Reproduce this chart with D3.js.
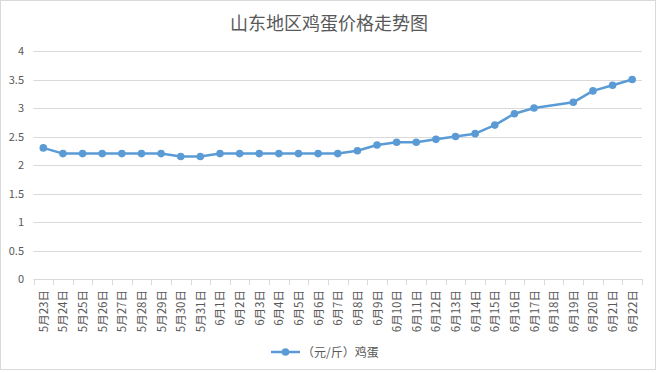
<!DOCTYPE html>
<html>
<head>
<meta charset="utf-8">
<script src="https://cdn.jsdelivr.net/npm/d3@7"></script>
<style>
  body { margin: 0; background: #fff; }
  svg { display: block; font-family: "Noto Sans CJK SC", "Noto Sans", sans-serif; }
</style>
</head>
<body>
<svg width="658" height="373"></svg>
<script>
var dates = ["5月23日","5月24日","5月25日","5月26日","5月27日","5月28日","5月29日","5月30日","5月31日",
  "6月1日","6月2日","6月3日","6月4日","6月5日","6月6日","6月7日","6月8日","6月9日","6月10日",
  "6月11日","6月12日","6月13日","6月14日","6月15日","6月16日","6月17日","6月18日","6月19日",
  "6月20日","6月21日","6月22日"];
var prices = [2.3,2.2,2.2,2.2,2.2,2.2,2.2,2.15,2.15,
  2.2,2.2,2.2,2.2,2.2,2.2,2.2,2.25,2.35,2.4,
  2.4,2.45,2.5,2.55,2.7,2.9,3.0,null,3.1,
  3.3,3.4,3.5];
var yTicks = [0,0.5,1,1.5,2,2.5,3,3.5,4];
var seriesName = "（元/斤）鸡蛋";
var title = "山东地区鸡蛋价格走势图";

var svg = d3.select("svg"),
    width = +svg.attr("width"),
    height = +svg.attr("height");

var color = "#5b9bd5";
var grid = "#d9d9d9";
var textColor = "#595959";

svg.append("rect")
  .attr("x", 0.5).attr("y", 0.5)
  .attr("width", 655).attr("height", 369)
  .attr("fill", "#fff").attr("stroke", grid);

var margin = {left: 33.5, right: 642, top: 51, bottom: 279};

var x = d3.scaleBand().domain(dates).range([margin.left, margin.right]);
var y = d3.scaleLinear().domain([0, 4]).range([margin.bottom, margin.top]);

svg.append("text")
  .attr("x", 329).attr("y", 30)
  .attr("text-anchor", "middle")
  .attr("font-size", "18px")
  .attr("fill", textColor)
  .text(title);

// gridlines
svg.append("g")
  .selectAll("line")
  .data(yTicks.slice(1))
  .enter().append("line")
  .attr("x1", margin.left).attr("x2", margin.right)
  .attr("y1", function(d) { return Math.round(y(d)) + 0.5; })
  .attr("y2", function(d) { return Math.round(y(d)) + 0.5; })
  .attr("stroke", grid);

// y labels
svg.append("g")
  .selectAll("text")
  .data(yTicks)
  .enter().append("text")
  .attr("x", 24)
  .attr("y", function(d) { return y(d) + 4; })
  .attr("text-anchor", "end")
  .attr("font-size", "11px")
  .attr("fill", textColor)
  .text(function(d) { return d; });

// x axis
var xAxis = d3.axisBottom(x).tickSize(5).tickFormat("");
var gx = svg.append("g")
  .attr("transform", "translate(0," + (Math.round(margin.bottom) + 0.5) + ")")
  .call(xAxis);
gx.select(".domain").attr("stroke", grid).attr("d", "M" + margin.left + ",0H" + margin.right);
gx.selectAll(".tick").remove();
svg.append("g")
  .selectAll("line")
  .data(dates.concat(["end"]))
  .enter().append("line")
  .attr("x1", function(d, i) { return Math.round(margin.left + i * x.step()) + 0.5; })
  .attr("x2", function(d, i) { return Math.round(margin.left + i * x.step()) + 0.5; })
  .attr("y1", margin.bottom).attr("y2", margin.bottom + 6)
  .attr("stroke", grid);

svg.append("g")
  .selectAll("text")
  .data(dates)
  .enter().append("text")
  .attr("transform", function(d) {
    return "translate(" + (x(d) + x.bandwidth() / 2 + 4.5) + "," + 290 + ") rotate(-90)";
  })
  .attr("text-anchor", "end")
  .attr("font-size", "11.5px")
  .attr("fill", textColor)
  .text(function(d) { return d; });

// line
var pts = dates.map(function(d, i) { return {date: d, value: prices[i]}; })
  .filter(function(d) { return d.value != null; });

var line = d3.line()
  .x(function(d) { return x(d.date) + x.bandwidth() / 2; })
  .y(function(d) { return y(d.value); });

svg.append("path")
  .datum(pts)
  .attr("d", line)
  .attr("fill", "none")
  .attr("stroke", color)
  .attr("stroke-width", 2.5)
  .attr("stroke-linejoin", "round");

svg.append("g")
  .selectAll("circle")
  .data(pts)
  .enter().append("circle")
  .attr("cx", function(d) { return x(d.date) + x.bandwidth() / 2; })
  .attr("cy", function(d) { return y(d.value); })
  .attr("r", 3.8)
  .attr("fill", color);

// legend
var lg = svg.append("g");
lg.append("line")
  .attr("x1", 271).attr("x2", 300)
  .attr("y1", 352).attr("y2", 352)
  .attr("stroke", color).attr("stroke-width", 2.5);
lg.append("circle")
  .attr("cx", 285.5).attr("cy", 352).attr("r", 3.8).attr("fill", color);
lg.append("text")
  .attr("x", 302).attr("y", 356.5)
  .attr("font-size", "12px")
  .attr("fill", textColor)
  .text(seriesName);
</script>
</body>
</html>
